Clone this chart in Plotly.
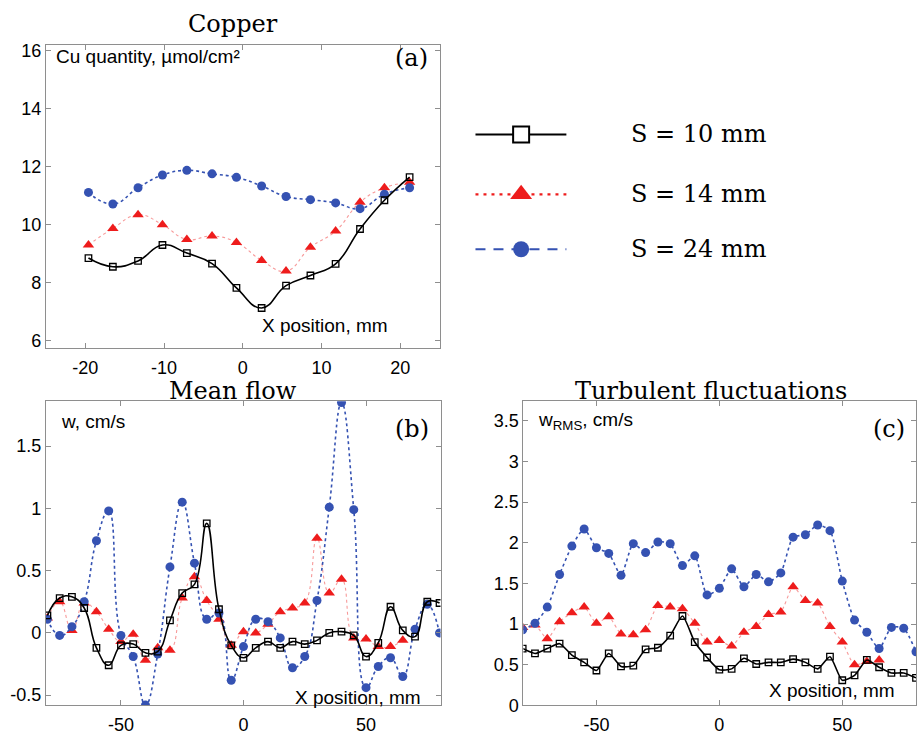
import plotly.graph_objects as go

# ---------------- data ----------------
series_names = ["S = 10 mm", "S = 14 mm", "S = 24 mm"]

# (a) copper quantity, µmol/cm²
x_cu = [-19.6, -16.5, -13.3, -10.2, -7.1, -3.9, -0.8, 2.4, 5.5, 8.6, 11.8, 14.9, 18.0, 21.2]
cu_s10 = [8.85, 8.55, 8.75, 9.30, 9.02, 8.66, 7.82, 7.13, 7.90, 8.25, 8.65, 9.85, 10.84, 11.64]
cu_s14 = [9.30, 9.87, 10.34, 10.00, 9.49, 9.61, 9.39, 8.77, 8.40, 9.22, 9.78, 10.77, 11.27, 11.46]
cu_s24 = [11.11, 10.71, 11.27, 11.71, 11.87, 11.75, 11.63, 11.33, 10.97, 10.86, 10.75, 10.55, 11.05, 11.27]

# (b) mean flow w, cm/s  (x = -80 ... 80 mm, step 5)
x_flow = list(range(-80, 81, 5))
w_s10 = [0.14, 0.28, 0.29, 0.20, -0.12, -0.26, -0.10, -0.09, -0.16, -0.15, 0.10,
         0.32, 0.39, 0.88, 0.19, -0.10, -0.20, -0.12, -0.07, -0.12, -0.07, -0.09,
         -0.06, 0.00, 0.01, -0.02, -0.19, -0.08, 0.21, 0.02, -0.03, 0.25, 0.24]
w_s14 = [0.12, 0.25, 0.02, 0.24, 0.17, 0.03, -0.07, -0.01, -0.22, -0.12, -0.14,
         0.28, 0.45, 0.26, 0.11, -0.10, 0.01, 0.00, 0.07, 0.17, 0.20, 0.24,
         0.76, 0.32, 0.43, -0.04, -0.05, -0.11, -0.11, -0.06]
w_s24 = [0.11, -0.02, 0.05, 0.25, 0.74, 0.98, -0.02, -0.19, -0.58, -0.17, 0.53,
         1.05, 0.56, 0.11, 0.16, -0.38, -0.11, 0.11, 0.09, -0.04, -0.28, -0.19,
         0.26, 1.01, 1.85, 0.99, -0.44, -0.27, -0.20, -0.35, 0.03, 0.23, 0.00]

# (c) turbulent fluctuations w_RMS, cm/s
rms_s10 = [0.70, 0.64, 0.70, 0.76, 0.62, 0.53, 0.43, 0.64, 0.48, 0.49, 0.69,
           0.71, 0.86, 1.10, 0.78, 0.59, 0.44, 0.45, 0.58, 0.51, 0.53, 0.53,
           0.57, 0.53, 0.45, 0.60, 0.31, 0.37, 0.56, 0.47, 0.40, 0.40, 0.34]
rms_s14 = [0.96, 0.99, 0.82, 1.03, 1.14, 1.21, 1.01, 1.09, 0.88, 0.87, 0.93,
           1.23, 1.21, 1.19, 1.01, 0.78, 0.80, 0.73, 0.90, 0.97, 1.12, 1.15,
           1.46, 1.29, 1.26, 0.97, 0.78, 0.50, 0.54, 0.56]
rms_s24 = [0.93, 1.01, 1.21, 1.61, 1.96, 2.17, 1.94, 1.87, 1.60, 1.99, 1.88,
           2.01, 1.99, 1.72, 1.84, 1.36, 1.44, 1.68, 1.46, 1.61, 1.52, 1.63,
           2.07, 2.10, 2.22, 2.15, 1.53, 1.05, 0.90, 0.70, 0.96, 0.95, 0.66]

# tick labels
cu_xticks = [-20, -10, 0, 10, 20]
cu_yticks = [6, 8, 10, 12, 14, 16]
flow_xticks = [-50, 0, 50]
flow_yticks = [-0.5, 0, 0.5, 1, 1.5]
rms_yticks = [0, 0.5, 1, 1.5, 2, 2.5, 3, 3.5]


def label(v):
    return f"{v:g}"


# ---------------- styles ----------------
BLACK = "#000000"
RED = "#ee1c1c"
BLUE = "#3552b2"
FRAME = "#8e8e8e"
SANS = "Liberation Sans, Arial, sans-serif"
SERIF = "DejaVu Serif, serif"

styles = {
    "s10": dict(line=dict(color=BLACK, width=1.6, dash="solid"),
                marker=dict(symbol="square-open", size=6.5, color=BLACK, line=dict(width=1.3, color=BLACK))),
    "s14": dict(line=dict(color="rgba(240,70,70,0.55)", width=1.1, dash="dot"),
                marker=dict(symbol="triangle-up", size=10, color=RED)),
    "s24": dict(line=dict(color=BLUE, width=1.6, dash="dot"),
                marker=dict(symbol="circle", size=9, color=BLUE)),
}

fig = go.Figure()


def add_series(x, y, key, name, xa, ya, smoothing):
    st = styles[key]
    fig.add_trace(go.Scatter(
        x=x[:len(y)], y=y, mode="lines+markers", name=name,
        line=dict(shape="spline", smoothing=smoothing, **st["line"]),
        marker=st["marker"], xaxis=xa, yaxis=ya, showlegend=False,
        cliponaxis=True,
    ))


# draw order: 14 mm, 24 mm, then 10 mm on top
add_series(x_cu, cu_s14, "s14", series_names[1], "x", "y", 1.3)
add_series(x_cu, cu_s24, "s24", series_names[2], "x", "y", 1.3)
add_series(x_cu, cu_s10, "s10", series_names[0], "x", "y", 1.3)

add_series(x_flow, w_s14, "s14", series_names[1], "x2", "y2", 1.3)
add_series(x_flow, w_s24, "s24", series_names[2], "x2", "y2", 1.3)
add_series(x_flow, w_s10, "s10", series_names[0], "x2", "y2", 1.3)

add_series(x_flow, rms_s14, "s14", series_names[1], "x3", "y3", 0.6)
add_series(x_flow, rms_s24, "s24", series_names[2], "x3", "y3", 0.6)
add_series(x_flow, rms_s10, "s10", series_names[0], "x3", "y3", 0.6)

W, H = 917, 740

# ---------------- legend (small pixel-space axis beside panel a) ----------------
LEG_X0, LEG_X1, LEG_Y0, LEG_Y1 = 470, 580, 110, 270
legend_rows_y = [133, 194, 250]
legend_line_x = [476, 567]
legend_marker_x = 521.7
legend_text_x = 630
legend_line_dash = {"s10": "solid", "s14": "3px,5px", "s24": "10px,8px"}
legend_colors = {"s10": BLACK, "s14": RED, "s24": BLUE}
legend_markers = {
    "s10": dict(symbol="square", size=16, color="white", line=dict(width=2, color=BLACK)),
    "s14": dict(symbol="triangle-up", size=19, color=RED),
    "s24": dict(symbol="circle", size=16, color=BLUE),
}
for key, name, ry in zip(["s10", "s14", "s24"], series_names, legend_rows_y):
    fig.add_trace(go.Scatter(
        x=legend_line_x, y=[ry, ry], mode="lines",
        line=dict(color=legend_colors[key], width=2.2, dash=legend_line_dash[key]),
        xaxis="x4", yaxis="y4", showlegend=False, hoverinfo="skip", cliponaxis=False))
    fig.add_trace(go.Scatter(
        x=[legend_marker_x], y=[ry], mode="markers", marker=legend_markers[key],
        xaxis="x4", yaxis="y4", showlegend=False, hoverinfo="skip", cliponaxis=False))
    fig.add_annotation(x=legend_text_x / W, y=1 - ry / H, xref="paper", yref="paper", text=name,
                       showarrow=False, xanchor="left", yanchor="middle",
                       font=dict(family=SERIF, size=24, color="black"))


# ---------------- axes ----------------
def frame_axis(**kw):
    d = dict(showline=True, mirror="ticks", linecolor=FRAME, linewidth=1,
             ticks="inside", ticklen=5, tickcolor=FRAME, tickwidth=1,
             showgrid=False, zeroline=False,
             tickfont=dict(family=SANS, size=18, color="black"))
    d.update(kw)
    return d


XSTAND = 3
fig.update_layout(
    width=W, height=H, margin=dict(l=0, r=0, t=0, b=0),
    paper_bgcolor="white", plot_bgcolor="rgba(0,0,0,0)", showlegend=False,
    xaxis=frame_axis(domain=[46 / W, 440 / W], range=[-25, 25], ticklabelstandoff=XSTAND,
                     tickvals=cu_xticks, ticktext=[label(v) for v in cu_xticks], anchor="y"),
    yaxis=frame_axis(domain=[1 - 351 / H, 1 - 42 / H], range=[5.74, 16.18],
                     tickvals=cu_yticks, ticktext=[label(v) for v in cu_yticks], anchor="x"),
    xaxis2=frame_axis(domain=[46 / W, 441 / W], range=[-80.6, 80.4], ticklabelstandoff=XSTAND,
                      tickvals=flow_xticks, ticktext=[label(v) for v in flow_xticks], anchor="y2"),
    yaxis2=frame_axis(domain=[1 - 715 / H, 1 - 405 / H], range=[-0.583, 1.86],
                      tickvals=flow_yticks, ticktext=[label(v) for v in flow_yticks], anchor="x2"),
    xaxis3=frame_axis(domain=[524 / W, 1.0], range=[-79.7, 80.0], ticklabelstandoff=XSTAND,
                      tickvals=flow_xticks, ticktext=[label(v) for v in flow_xticks], anchor="y3"),
    yaxis3=frame_axis(domain=[1 - 715 / H, 1 - 405 / H], range=[0, 3.74],
                      tickvals=rms_yticks, ticktext=[label(v) for v in rms_yticks], anchor="x3"),
    xaxis4=dict(domain=[LEG_X0 / W, LEG_X1 / W], range=[LEG_X0, LEG_X1],
                visible=False, fixedrange=True, anchor="y4"),
    yaxis4=dict(domain=[1 - LEG_Y1 / H, 1 - LEG_Y0 / H], range=[LEG_Y1, LEG_Y0],
                visible=False, fixedrange=True, anchor="x4"),
)

# ---------------- titles and in-panel labels ----------------
titles = [("Copper", 233 / W, 1 - 20 / H),
          ("Mean flow", 233 / W, 1 - 394 / H),
          ("Turbulent fluctuations", 712 / W, 1 - 394 / H)]
for text, tx, ty in titles:
    fig.add_annotation(x=tx, y=ty, xref="paper", yref="paper", text=text,
                       showarrow=False, xanchor="center", yanchor="middle", borderpad=0,
                       font=dict(family=SERIF, size=24, color="black"))

panel_labels = [
    ("x", "y", "Cu quantity, µmol/cm²", 0.02, 0.964, "(a)", 0.929, 0.958, 0.543, 0.074),
    ("x2", "y2", "w, cm/s", 0.033, 0.935, "(b)", 0.927, 0.91, 0.625, 0.026),
    ("x3", "y3", "w<sub>RMS</sub>, cm/s", 0.033, 0.935, "(c)", 0.931, 0.91, 0.621, 0.048),
]
for xa, ya, qty, qx, qy, tag, tgx, tgy, px, py in panel_labels:
    xr, yr = f"{xa} domain", f"{ya} domain"
    fig.add_annotation(x=qx, y=qy, xref=xr, yref=yr, text=qty, showarrow=False,
                       xanchor="left", yanchor="middle",
                       font=dict(family=SANS, size=19, color="black"))
    fig.add_annotation(x=tgx, y=tgy, xref=xr, yref=yr, text=tag, showarrow=False,
                       xanchor="center", yanchor="middle",
                       font=dict(family=SERIF, size=24, color="black"))
    fig.add_annotation(x=px, y=py, xref=xr, yref=yr, text="X position, mm",
                       showarrow=False, xanchor="left", yanchor="middle",
                       font=dict(family=SANS, size=19, color="black"))

fig.write_html("out.html")
